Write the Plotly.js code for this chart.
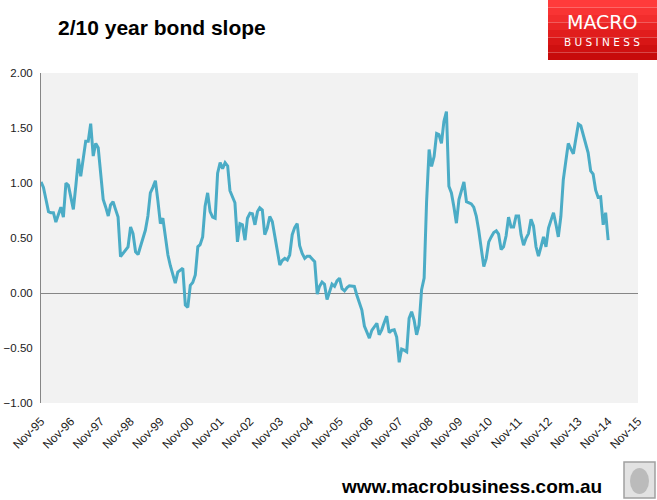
<!DOCTYPE html>
<html>
<head>
<meta charset="utf-8">
<script src="https://cdn.plot.ly/plotly-3.0.1.min.js"></script>
<style>html,body{margin:0;padding:0;background:#fff;}#chart{width:657px;height:500px;}</style>
</head>
<body>
<div id="chart"></div>
<script>
// Monthly 2/10 year bond slope, starting Nov 1995
var startMonth = '1995-11';
var slope = [
 1.01,0.96,0.85,0.74,0.73,0.73,0.645,0.72,0.78,0.69,
 1.00,0.98,0.87,0.76,0.98,1.22,1.06,1.22,1.38,1.38,
 1.54,1.245,1.36,1.32,1.08,0.85,0.78,0.70,0.80,0.83,
 0.76,0.69,0.33,0.36,0.385,0.42,0.60,0.54,0.375,0.35,
 0.42,0.50,0.57,0.70,0.91,0.96,1.02,0.84,0.63,0.68,
 0.52,0.345,0.25,0.16,0.09,0.19,0.21,0.225,-0.11,-0.13,
 0.07,0.095,0.165,0.42,0.44,0.51,0.79,0.91,0.74,0.69,
 0.68,1.09,1.185,1.13,1.185,1.155,0.93,0.87,0.82,0.465,
 0.63,0.62,0.48,0.68,0.725,0.72,0.62,0.74,0.775,0.755,
 0.53,0.59,0.695,0.65,0.52,0.39,0.255,0.295,0.315,0.30,
 0.345,0.53,0.595,0.63,0.43,0.36,0.315,0.335,0.335,0.31,
 0.285,-0.01,0.06,0.10,0.08,-0.06,0.01,0.08,0.06,0.11,
 0.135,0.04,0.02,0.05,0.065,0.065,0.06,-0.02,-0.08,-0.155,
 -0.30,-0.36,-0.41,-0.34,-0.305,-0.275,-0.38,-0.335,-0.27,-0.21,
 -0.36,-0.34,-0.335,-0.40,-0.63,-0.51,-0.52,-0.535,-0.23,-0.17,
 -0.245,-0.38,-0.29,0.03,0.135,0.83,1.305,1.15,1.24,1.45,
 1.44,1.36,1.56,1.65,0.97,0.91,0.78,0.635,0.85,0.93,
 1.01,0.83,0.82,0.81,0.78,0.70,0.57,0.40,0.24,0.315,
 0.465,0.51,0.55,0.565,0.535,0.395,0.42,0.52,0.69,0.60,
 0.60,0.70,0.70,0.53,0.435,0.50,0.54,0.67,0.61,0.42,
 0.335,0.42,0.51,0.42,0.59,0.66,0.73,0.62,0.51,0.695,
 1.03,1.20,1.36,1.31,1.265,1.40,1.535,1.52,1.44,1.36,
 1.275,1.11,1.08,0.935,0.87,0.875,0.62,0.73,0.48
];
var yTicks = [-1.0,-0.5,0.0,0.5,1.0,1.5,2.0];
var xRange = ['1995-11-01','2015-11-01'];
var titleText = '2/10 year bond slope';
var footerText = 'www.macrobusiness.com.au';

function monthDates(start, n){
  var p = start.split('-'); var y = +p[0], m = +p[1];
  var out = [];
  for (var i=0;i<n;i++){
    var mm = m + i; var yy = y + Math.floor((mm-1)/12); var mo = ((mm-1)%12)+1;
    out.push(yy + '-' + (mo<10?'0':'') + mo + '-01');
  }
  return out;
}
var dates = monthDates(startMonth, slope.length);

// paper helpers (plot area: x 41..638 px, y 73..403 px)
function px(x){ return (x-41)/597; }
function py(y){ return (403-y)/330; }

var shapes = [];
// logo gradient bands
var bandCols = ['#ff3b3b','#f93434','#f22d2d','#ea2525','#e11d1d','#d81616','#cf1010','#c70b0b'];
for (var i=0;i<bandCols.length;i++){
  shapes.push({type:'rect', xref:'paper', yref:'paper', x0:px(548), x1:px(657),
    y0:py(60*(i+1)/bandCols.length), y1:py(60*i/bandCols.length),
    fillcolor:bandCols[i], line:{width:0}, layer:'above'});
}
// small wolf picture frame
shapes.push({type:'rect', xref:'paper', yref:'paper', x0:px(624), x1:px(655), y0:py(498), y1:py(462),
  fillcolor:'#e2e2e2', line:{color:'#a0a0a0', width:1.5}});
shapes.push({type:'circle', xref:'paper', yref:'paper', x0:px(630), x1:px(649), y0:py(494), y1:py(468),
  fillcolor:'#9a9a9a', line:{width:0}, opacity:0.55});

var data = [{
  type:'scatter', mode:'lines', x:dates, y:slope,
  line:{color:'#4bacc6', width:3}, hoverinfo:'x+y'
}];

var layout = {
  width:657, height:500,
  margin:{l:41, r:19, t:73, b:97},
  paper_bgcolor:'#ffffff', plot_bgcolor:'#f2f2f2',
  showlegend:false,
  font:{family:'Liberation Sans, Arial, sans-serif', color:'#1a1a1a'},
  xaxis:{
    type:'date', range:xRange, tick0:'1995-11-01', dtick:'M12', tickformat:'%b-%y',
    tickangle:-45, showgrid:false, zeroline:false, showline:false,
    tickfont:{size:12, color:'#1a1a1a'}, ticks:'', ticklabelstandoff:8, fixedrange:true
  },
  yaxis:{
    range:[-1,2], tickvals:yTicks, tickformat:'.2f', showgrid:false,
    zeroline:true, zerolinecolor:'#868686', zerolinewidth:1,
    showline:true, linecolor:'#868686', linewidth:1,
    tickfont:{size:11.5, color:'#1a1a1a'}, ticks:'', ticklabelstandoff:5, fixedrange:true
  },
  shapes:shapes,
  annotations:[
    {text:'<b>'+titleText+'</b>', xref:'paper', yref:'paper', x:px(56), y:py(28),
     xanchor:'left', yanchor:'middle', showarrow:false,
     font:{family:'Liberation Sans, Arial, sans-serif', size:21, color:'#000'}},
    {text:'MACRO', xref:'paper', yref:'paper', x:px(602), y:py(22),
     xanchor:'center', yanchor:'middle', showarrow:false,
     font:{family:'DejaVu Sans, sans-serif', size:19, color:'#ffffff'}},
    {text:'B U S I N E S S', xref:'paper', yref:'paper', x:px(602), y:py(42),
     xanchor:'center', yanchor:'middle', showarrow:false,
     font:{family:'DejaVu Sans, sans-serif', size:10.5, color:'#ffffff'}},
    {text:'<b>'+footerText+'</b>', xref:'paper', yref:'paper', x:px(604), y:py(487),
     xanchor:'right', yanchor:'middle', showarrow:false,
     font:{family:'Liberation Sans, Arial, sans-serif', size:19, color:'#000'}}
  ]
};

Plotly.newPlot('chart', data, layout, {displayModeBar:false, staticPlot:true});
</script>
</body>
</html>
